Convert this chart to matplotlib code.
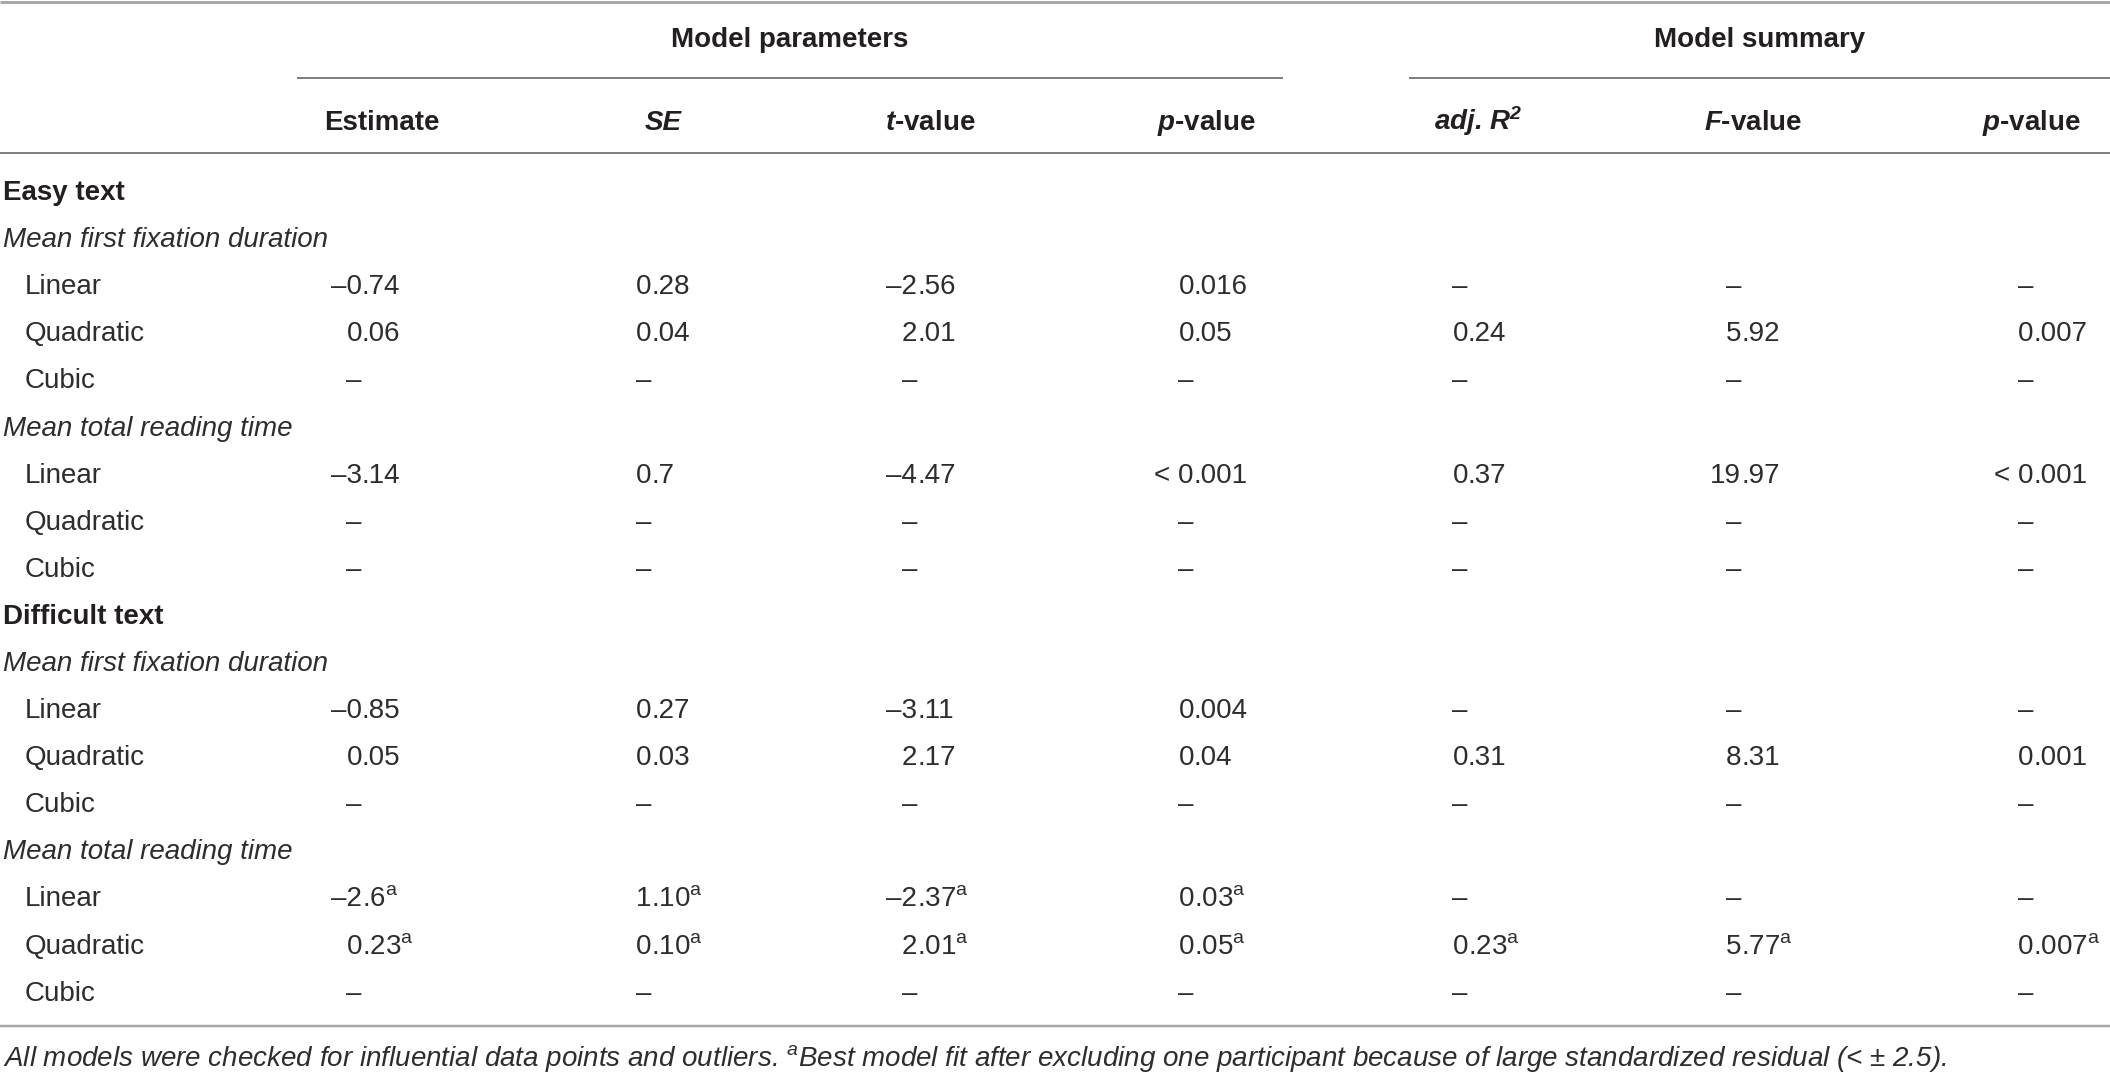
import matplotlib
matplotlib.use("Agg")
import matplotlib.pyplot as plt

# Table content
group_names = ["Easy text", "Difficult text"]
measure_names = ["Mean first fixation duration", "Mean total reading time"]
term_names = ["Linear", "Quadratic", "Cubic"]

# one entry per term row, in order: easy/first, easy/total, difficult/first, difficult/total
estimate = ["–0.74", "0.06", "–", "–3.14", "–", "–", "–0.85", "0.05", "–", "–2.6^a", "0.23^a", "–"]
std_err = ["0.28", "0.04", "–", "0.7", "–", "–", "0.27", "0.03", "–", "1.10^a", "0.10^a", "–"]
t_value = ["–2.56", "2.01", "–", "–4.47", "–", "–", "–3.11", "2.17", "–", "–2.37^a", "2.01^a", "–"]
p_value = ["0.016", "0.05", "–", "< 0.001", "–", "–", "0.004", "0.04", "–", "0.03^a", "0.05^a", "–"]
adj_r2 = ["–", "0.24", "–", "0.37", "–", "–", "–", "0.31", "–", "–", "0.23^a", "–"]
f_value = ["–", "5.92", "–", "19.97", "–", "–", "–", "8.31", "–", "–", "5.77^a", "–"]
p_model = ["–", "0.007", "–", "< 0.001", "–", "–", "–", "0.001", "–", "–", "0.007^a", "–"]

column_headers = ["Estimate", "SE", "$t$-value", "$p$-value", r"adj. R$^{\mathbf{2}}$", "$F$-value", "$p$-value"]
italic_headers = ["SE", r"adj. R$^{\mathbf{2}}$"]
span_headers = ["Model parameters", "Model summary"]
footnote = ("All models were checked for influential data points and outliers. "
            r"$^{\mathsf{a}}$Best model fit after excluding one participant because of "
            "large standardized residual (< ± 2.5).")

TEXT = "#231f20"
BODY = "#2e2c2d"
FS = 20

plt.rcParams["font.family"] = ["Liberation Sans", "DejaVu Sans"]
plt.rcParams["mathtext.fontset"] = "custom"
plt.rcParams["mathtext.rm"] = "Liberation Sans"
plt.rcParams["mathtext.it"] = "Liberation Sans:bold:italic"
plt.rcParams["mathtext.bf"] = "Liberation Sans:bold:italic"
plt.rcParams["mathtext.sf"] = "Liberation Sans:italic"


def fmt(s):
    # superscript footnote marker
    return s.replace("^a", r"$^{\mathrm{a}}$")


def draw_cell(ax, x_dot, y, s):
    # decimal aligned cell; dashes sit where the integer digit would be
    if s == "–":
        ax.text(x_dot, y, s, ha="right", va="baseline", fontsize=FS, color=BODY)
        return
    if "." in s:
        whole, frac = s.split(".", 1)
        ax.text(x_dot, y, whole, ha="right", va="baseline", fontsize=FS, color=BODY)
        ax.text(x_dot, y, fmt("." + frac), ha="left", va="baseline", fontsize=FS, color=BODY)
    else:
        ax.text(x_dot, y, fmt(s), ha="right", va="baseline", fontsize=FS, color=BODY)


def main():
    fig = plt.figure(figsize=(21.1, 10.74), dpi=100)
    ax = fig.add_axes([0, 0, 1, 1])
    ax.set_xlim(0, 2110)
    ax.set_ylim(1074, 0)
    ax.axis("off")

    px = 72 / 100
    # rules
    ax.plot([0, 2110], [2, 2], color="#a8a8a8", lw=3 * px, solid_capstyle="butt")
    ax.plot([297, 1283], [78, 78], color="#808080", lw=2 * px, solid_capstyle="butt")
    ax.plot([1409, 2110], [78, 78], color="#808080", lw=2 * px, solid_capstyle="butt")
    ax.plot([0, 2110], [153, 153], color="#808080", lw=2 * px, solid_capstyle="butt")
    ax.plot([0, 2110], [1026, 1026], color="#a8a8a8", lw=2.5 * px, solid_capstyle="butt")

    base = 10  # baseline offset from visual row centre

    # spanning headers
    ax.text(790, 37 + base, span_headers[0], ha="center", va="baseline", fontsize=FS,
            fontweight="bold", color=TEXT)
    ax.text(1760, 37 + base, span_headers[1], ha="center", va="baseline", fontsize=FS,
            fontweight="bold", color=TEXT)

    header_x = [382, 663, 930, 1206, 1478, 1753, 2031]
    for i, h in enumerate(column_headers):
        style = "italic" if h in italic_headers else "normal"
        ax.text(header_x[i], 120 + base, h, ha="center", va="baseline", fontsize=FS,
                fontweight="bold", fontstyle=style, color=TEXT)

    columns = [estimate, std_err, t_value, p_value, adj_r2, f_value, p_model]
    dot_x = [362, 651, 917, 1194, 1468, 1741, 2033]

    row_y0 = 190
    step = 47.1
    r = 0
    k = 0
    for g, group in enumerate(group_names):
        ax.text(3, row_y0 + r * step + base, group, ha="left", va="baseline", fontsize=FS,
                fontweight="bold", color=TEXT)
        r += 1
        for measure in measure_names:
            ax.text(3, row_y0 + r * step + base, measure, ha="left", va="baseline", fontsize=FS,
                    fontstyle="italic", color=BODY)
            r += 1
            for term in term_names:
                y = row_y0 + r * step + base
                ax.text(25, y, term, ha="left", va="baseline", fontsize=FS, color=BODY)
                for c, col in enumerate(columns):
                    draw_cell(ax, dot_x[c], y, col[k])
                k += 1
                r += 1

    ax.text(3, 1056 + base, footnote, ha="left", va="baseline", fontsize=20,
            fontstyle="italic", color=BODY)

    fig.savefig("out.png", dpi=100)


if __name__ == "__main__":
    main()
